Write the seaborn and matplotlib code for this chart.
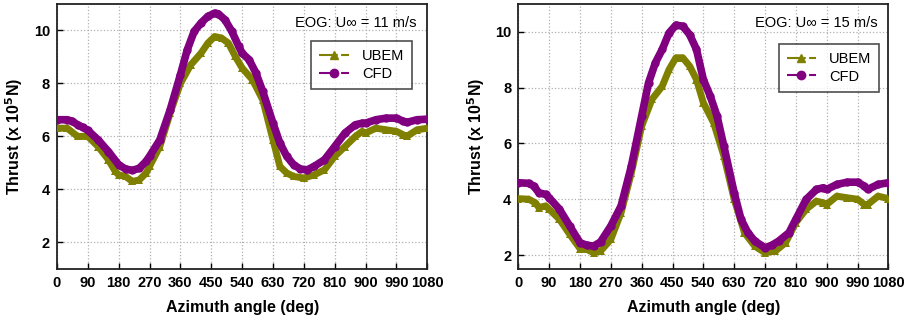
import matplotlib
matplotlib.use("Agg")
import matplotlib.pyplot as plt
import seaborn as sns
import pandas as pd
from matplotlib.lines import Line2D

sns.set_theme(style="ticks")
plt.rcParams['font.family'] = ['Liberation Sans', 'DejaVu Sans']
plt.rcParams['text.color'] = 'black'
plt.rcParams['axes.labelcolor'] = 'black'
plt.rcParams['xtick.color'] = 'black'
plt.rcParams['ytick.color'] = 'black'

# ---- data ----
# Left panel: U = 11 m/s
cfd11_x = [0, 30, 45, 60, 75, 90, 120, 150, 180, 200, 220, 240, 260, 270, 300, 330, 360, 380, 400, 420,
           440, 460, 470, 490, 510, 530, 540, 560, 580, 600, 630, 650, 670, 690, 710, 730, 750, 780, 810,
           840, 870, 890, 900, 930, 960, 990, 1010, 1020, 1050, 1080]
cfd11_y = [6.63, 6.63, 6.57, 6.44, 6.34, 6.23, 5.87, 5.43, 4.93, 4.77, 4.72, 4.80, 5.06, 5.25, 5.87, 7.00,
           8.33, 9.27, 9.96, 10.28, 10.53, 10.65, 10.63, 10.40, 9.96, 9.40, 9.14, 8.90, 8.40, 7.70, 6.50,
           5.75, 5.25, 4.93, 4.77, 4.74, 4.87, 5.12, 5.62, 6.13, 6.44, 6.50, 6.50, 6.63, 6.69, 6.69, 6.57,
           6.53, 6.63, 6.65]
ubem11_x = [0, 30, 60, 90, 120, 150, 170, 180, 200, 220, 240, 260, 270, 300, 330, 360, 390, 420, 440, 460,
            480, 500, 520, 540, 570, 600, 630, 650, 670, 690, 720, 750, 780, 810, 840, 870, 890, 900, 930,
            960, 990, 1010, 1020, 1050, 1080]
ubem11_y = [6.31, 6.31, 6.00, 6.00, 5.62, 5.12, 4.68, 4.55, 4.49, 4.30, 4.36, 4.62, 4.87, 5.62, 6.88, 8.00,
            8.70, 9.14, 9.52, 9.77, 9.71, 9.52, 9.02, 8.58, 8.14, 7.38, 5.87, 4.87, 4.62, 4.49, 4.43, 4.55,
            4.74, 5.25, 5.62, 6.00, 6.19, 6.13, 6.31, 6.25, 6.19, 6.06, 6.00, 6.25, 6.31]

# Right panel: U = 15 m/s
cfd15_x = [0, 30, 45, 60, 80, 90, 120, 150, 180, 200, 220, 240, 270, 300, 330, 360, 380, 400, 420, 440,
           460, 480, 500, 520, 540, 560, 580, 600, 630, 650, 670, 690, 720, 740, 760, 790, 810, 840, 870,
           890, 900, 930, 960, 990, 1010, 1020, 1050, 1080]
cfd15_y = [4.59, 4.57, 4.47, 4.23, 4.17, 4.05, 3.64, 3.04, 2.44, 2.35, 2.32, 2.47, 3.04, 3.76, 5.19, 6.98,
           8.17, 8.89, 9.37, 9.96, 10.24, 10.20, 9.90, 9.37, 8.29, 7.70, 6.98, 5.90, 4.23, 3.28, 2.80, 2.50,
           2.26, 2.35, 2.50, 2.80, 3.28, 3.99, 4.35, 4.41, 4.35, 4.53, 4.61, 4.61, 4.47, 4.35, 4.53, 4.59]
ubem15_x = [0, 30, 50, 60, 80, 90, 120, 150, 180, 200, 220, 240, 270, 300, 330, 360, 390, 420, 440, 460,
            480, 500, 520, 540, 570, 600, 630, 660, 690, 720, 750, 780, 810, 840, 870, 890, 900, 930, 960,
            990, 1010, 1020, 1050, 1080]
ubem15_y = [4.02, 4.00, 3.87, 3.70, 3.76, 3.64, 3.28, 2.74, 2.23, 2.20, 2.08, 2.14, 2.56, 3.52, 4.95, 6.62,
            7.58, 8.05, 8.65, 9.07, 9.07, 8.77, 8.29, 7.46, 6.74, 5.55, 4.00, 2.80, 2.32, 2.08, 2.14, 2.44,
            3.16, 3.64, 3.93, 3.87, 3.81, 4.11, 4.05, 4.00, 3.81, 3.81, 4.11, 4.02]

xticks = list(range(0, 1081, 90))
yticks = [2, 4, 6, 8, 10]
labels = ["UBEM", "CFD"]
titles = ["EOG: U\u221e = 11 m/s", "EOG: U\u221e = 15 m/s"]

olive = "#808000"
purple = "#800080"

fig = plt.figure(figsize=(9.1, 3.26), dpi=100)
ax1 = fig.add_axes([0.0626, 0.175, 0.407, 0.813])
ax2 = fig.add_axes([0.5696, 0.175, 0.4066, 0.813])

panels = [
    (ax1, ubem11_x, ubem11_y, cfd11_x, cfd11_y, titles[0], (1, 11), (0.959, 0.86)),
    (ax2, ubem15_x, ubem15_y, cfd15_x, cfd15_y, titles[1], (1.5, 11), (0.976, 0.849)),
]

for ax, ux, uy, cx, cy, title, ylim, legpos in panels:
    sns.lineplot(x=ux, y=uy, ax=ax, color=olive, lw=5, marker="^", markersize=6,
                 markeredgewidth=0, sort=False, estimator=None, zorder=3)
    sns.lineplot(x=cx, y=cy, ax=ax, color=purple, lw=5.5, marker="o", markersize=6,
                 markeredgewidth=0, sort=False, estimator=None, zorder=4)
    ax.set_xlim(0, 1080)
    ax.set_ylim(*ylim)
    ax.set_xticks(xticks)
    ax.set_yticks(yticks)
    ax.grid(True, color="#b0b0b0", linestyle=":", linewidth=0.9)
    ax.set_axisbelow(True)
    ax.tick_params(direction="in", length=4, width=1, colors="black", labelsize=10.5, pad=5,
                   top=False, right=False)
    for lab in ax.get_xticklabels() + ax.get_yticklabels():
        lab.set_fontweight("bold")
    for sp in ax.spines.values():
        sp.set_visible(True)
        sp.set_linewidth(1.3)
        sp.set_color("#222222")
    ax.set_xlabel("Azimuth angle (deg)", fontsize=11.5, fontweight="bold", labelpad=7)
    ax.set_ylabel("Thrust (x 10$^\\mathbf{5}$N)", fontsize=11.5, fontweight="bold", labelpad=6)
    ax.text(0.97, 0.928, title, transform=ax.transAxes, ha="right", va="center", fontsize=10.5)
    handles = [
        Line2D([], [], color=olive, linestyle="-.", lw=1.5, marker="^", markersize=6),
        Line2D([], [], color=purple, linestyle="-.", lw=1.5, marker="o", markersize=6),
    ]
    leg = ax.legend(handles, labels, loc="upper right", bbox_to_anchor=legpos, borderaxespad=0,
                    fontsize=10.5, frameon=True, fancybox=False, edgecolor="#222222",
                    handlelength=2.0, handletextpad=0.9, borderpad=0.55, labelspacing=0.25)
    leg.get_frame().set_linewidth(1.2)

fig.savefig("out.png", dpi=100)
